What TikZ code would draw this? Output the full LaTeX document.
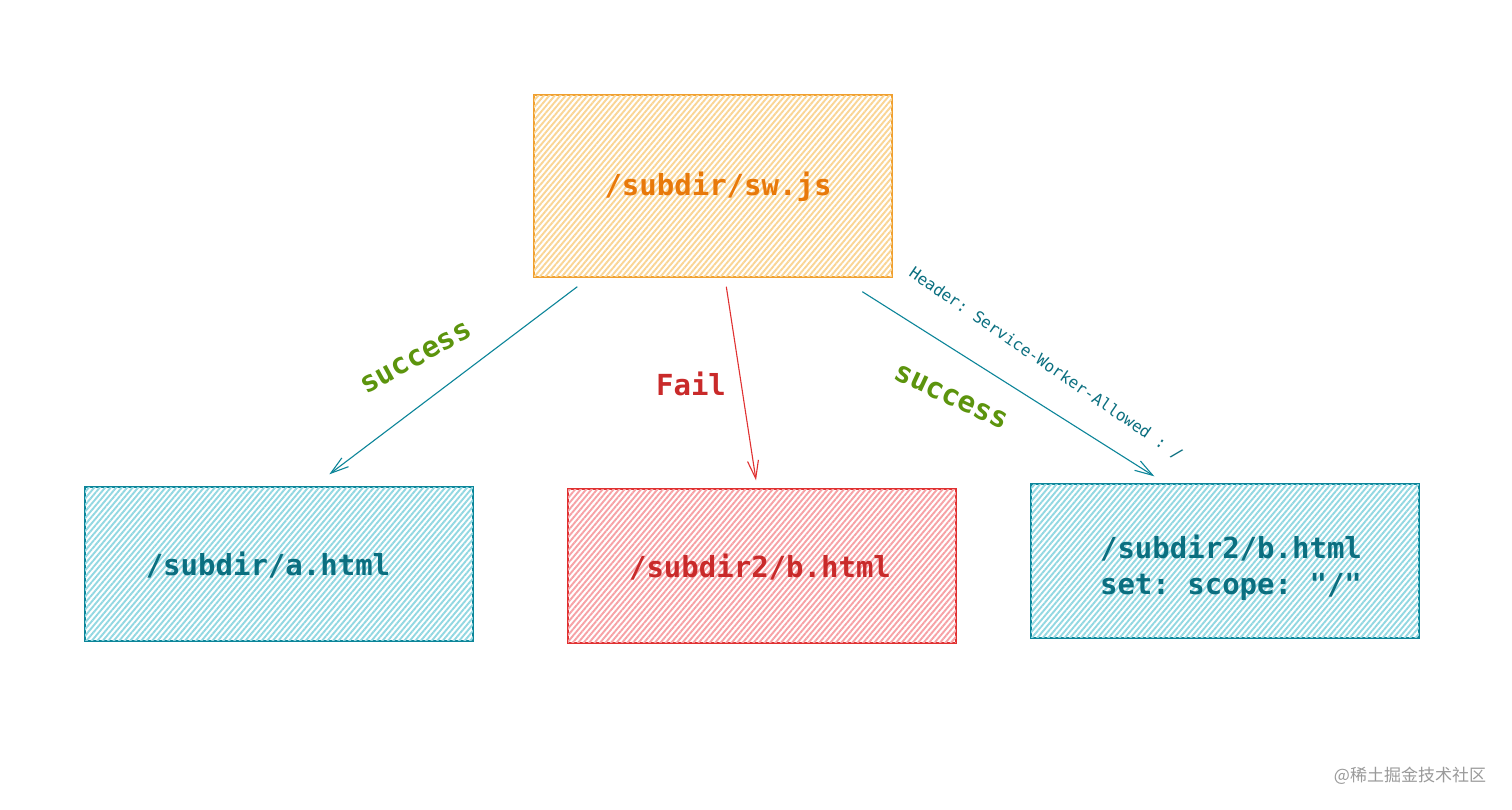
\documentclass[tikz,border=0pt]{standalone}
\usepackage{fontspec}
\setmonofont{DejaVu Sans Mono}
\newfontfamily\cjk{Noto Sans CJK SC}
\usetikzlibrary{patterns.meta,arrows.meta,calc}
\definecolor{orStroke}{HTML}{F0A030}
\definecolor{orFill}{HTML}{FAD595}
\definecolor{orText}{HTML}{E8790A}
\definecolor{tlStroke}{HTML}{0C8599}
\definecolor{tlFill}{HTML}{92D8E2}
\definecolor{tlText}{HTML}{0B6F80}
\definecolor{rdStroke}{HTML}{E03131}
\definecolor{rdFill}{HTML}{F7A2A6}
\definecolor{rdText}{HTML}{C92A2A}
\definecolor{grText}{HTML}{5C940D}
\definecolor{wmGray}{HTML}{9A9A9A}
\tikzset{
  box/.style={draw, rectangle, line width=1.4pt, minimum width=388pt, minimum height=154pt, inner sep=0pt, fill=white},
  hatch/.style={pattern={Lines[angle=50,distance=4.2pt,line width=1.9pt]}, pattern color=#1},
  big/.style={font=\ttfamily\bfseries\fontsize{29}{36}\selectfont, inner sep=0pt, align=center},
  small/.style={font=\ttfamily\fontsize{16}{19}\selectfont, inner sep=0pt},
  conn/.style={line width=1.1pt, -{Straight Barb[length=18pt,width=11pt,line width=1.1pt]}}
}
\begin{document}
\begin{tikzpicture}[x=1pt,y=-1pt]
\useasboundingbox (0,0) rectangle (1512,809);
\fill[white] (0,0) rectangle (1512,809);
% boxes
\node[box, draw=orStroke, minimum width=358pt, minimum height=182pt] (top) at (713,186) {};
\fill[hatch=orFill] (top.south west) rectangle (top.north east);
\draw[orStroke, line width=1.4pt] (top.south west) rectangle (top.north east);
\node[box, draw=tlStroke] (left) at (279,564) {};
\fill[hatch=tlFill] (left.south west) rectangle (left.north east);
\draw[tlStroke, line width=1.4pt] (left.south west) rectangle (left.north east);
\node[box, draw=rdStroke] (mid) at (762,566) {};
\fill[hatch=rdFill] (mid.south west) rectangle (mid.north east);
\draw[rdStroke, line width=1.4pt] (mid.south west) rectangle (mid.north east);
\node[box, draw=tlStroke] (right) at (1225,561) {};
\fill[hatch=tlFill] (right.south west) rectangle (right.north east);
\draw[tlStroke, line width=1.4pt] (right.south west) rectangle (right.north east);
% texts
\node[big, text=orText] (toptxt) at (718,187) {/subdir/sw.js};
\node[big, text=tlText] (lefttxt) at (268,565) {/subdir/a.html};
\node[big, text=rdText] (midtxt) at (760,567) {/subdir2/b.html};
\node[big, text=tlText] (righttxt) at (1231,568) {/subdir2/b.html\\set: scope: "/"};
% connector ends
\coordinate (s1) at ([shift={(44,9)}]top.south west);
\coordinate (e1) at ([shift={(245,-12)}]left.north west);
\coordinate (s2) at ([shift={(193,9)}]top.south west);
\coordinate (e2) at ([shift={(-6,-8)}]mid.north);
\coordinate (s3) at ([shift={(329,14)}]top.south west);
\coordinate (e3) at ([shift={(124,-7)}]right.north west);
\draw[conn, tlStroke] (s1) -- (e1);
\draw[conn, rdStroke] (s2) -- (e2);
\draw[conn, tlStroke] (s3) -- (e3);
% labels
\node[big, text=grText, rotate=29] (lbl1) at (416,358) {success};
\node[big, text=rdText] (lbl2) at (691,384) {Fail};
\node[big, text=grText, rotate=-25] (lbl3) at (951,397) {success};
\node[small, text=tlText, rotate=-34.5] (lbl4) at (1046,364) {Header: Service-Worker-Allowed : /};
% watermark
\node[font=\cjk\fontsize{17}{20}\selectfont, text=wmGray, inner sep=0pt] (wm) at (1410,776) {@稀土掘金技术社区};
\end{tikzpicture}
\end{document}
